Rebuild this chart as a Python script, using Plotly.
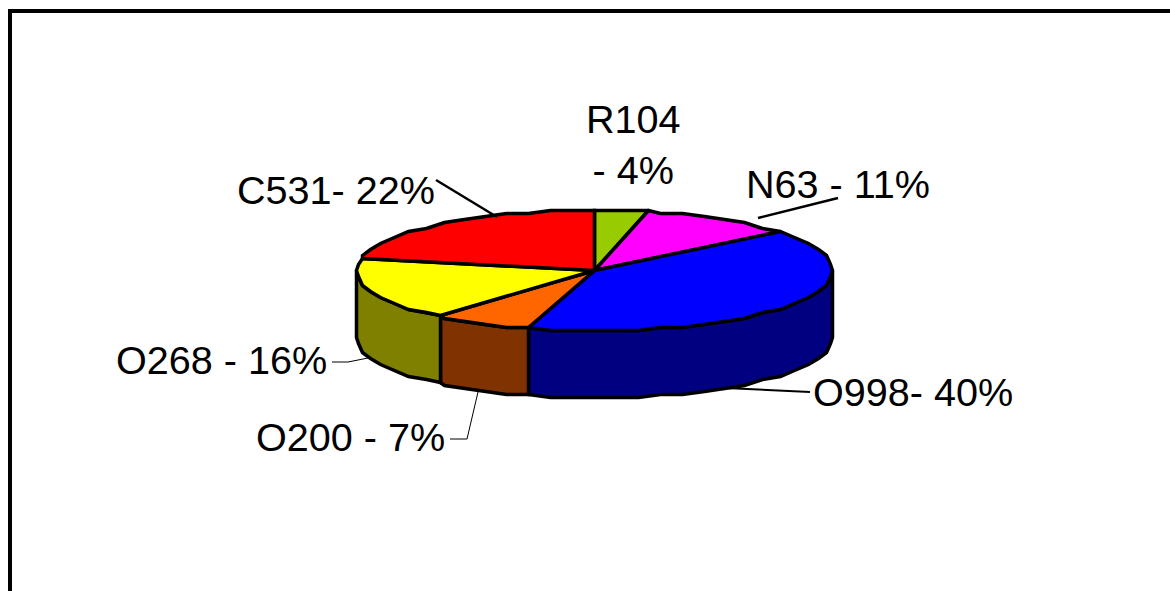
import math
import plotly.graph_objects as go

# Shares of each sector, clockwise from twelve o'clock
categories = ["R104", "N63", "O998", "O200", "O268", "C531"]
shares = [4, 11, 40, 7, 16, 22]
label_texts = ["R104<br>- 4%", "N63 - 11%", "O998- 40%", "O200 - 7%", "O268 - 16%", "C531- 22%"]
top_colors = ["#99CC00", "#FF00FF", "#0000FF", "#FF6600", "#FFFF00", "#FF0000"]
side_colors = ["#4D7A00", "#800080", "#000080", "#803300", "#808000", "#800000"]

# Pie disc geometry in pixels
CX, CY, RX, RY, DEPTH = 594.5, 270.5, 238.0, 60.5, 67.0
STEP = 6.0       # rim facet size in degrees
SNAP_X, SNAP_Y = 2.0, 3.0  # coarse vertex grid that gives the rim its faceted look
SKEW = 3.0       # angular foreshortening of the tilted disc, degrees

W, H = 1170, 591


def tilt(t):
    return t - SKEW * math.sin(math.radians(2 * t))


def rim(t, drop=0.0):
    a = math.radians(tilt(t))
    x = CX + RX * math.sin(a)
    y = CY - RY * math.cos(a)
    return CX + round((x - CX) / SNAP_X) * SNAP_X, CY + round((y - CY) / SNAP_Y) * SNAP_Y + drop


def arc_angles(a0, a1):
    pts = [a0]
    t = (math.floor(a0 / STEP) + 1) * STEP
    while t < a1:
        pts.append(t)
        t += STEP
    pts.append(a1)
    return pts


total = sum(shares)
bounds = [0.0]
for s in shares:
    bounds.append(bounds[-1] + 360.0 * s / total)

fig = go.Figure()


def polygon(points, color):
    fig.add_trace(go.Scatter(
        x=[p[0] for p in points], y=[p[1] for p in points],
        mode="lines", fill="toself", fillcolor=color,
        line=dict(color="black", width=3.5), hoverinfo="skip", showlegend=False,
    ))


# Side walls: only the part of the rim facing the viewer (90 to 270 degrees)
for i in range(len(shares)):
    a0, a1 = max(bounds[i], 90.0), min(bounds[i + 1], 270.0)
    if a0 >= a1:
        continue
    angles = arc_angles(a0, a1)
    pts = [rim(t) for t in angles] + [rim(t, DEPTH) for t in reversed(angles)]
    pts.append(pts[0])
    polygon(pts, side_colors[i])

# Top faces
for i in range(len(shares)):
    angles = arc_angles(bounds[i], bounds[i + 1])
    pts = [(CX, CY)] + [rim(t) for t in angles] + [(CX, CY)]
    polygon(pts, top_colors[i])

# Leader lines: (points, width)
leaders = [
    ([(436, 180), (497, 217)], 2.5),
    ([(758, 218), (838, 198)], 2.5),
    ([(725, 388), (810, 392)], 2.0),
    ([(332, 362), (348, 362), (368, 358)], 1.0),
    ([(450, 439), (467, 439), (478, 392)], 1.0),
]
for pts, w in leaders:
    fig.add_trace(go.Scatter(
        x=[p[0] for p in pts], y=[p[1] for p in pts], mode="lines",
        line=dict(color="black", width=w), hoverinfo="skip", showlegend=False,
    ))

# Label anchors: x, y, horizontal alignment
anchors = [
    (633.5, 144.5, "center"),
    (744, 184, "left"),
    (811, 392, "left"),
    (254, 437, "left"),
    (114, 360, "left"),
    (235, 190, "left"),
]
annotations = [
    dict(x=x, y=y, xref="x", yref="y", text=t, showarrow=False, xanchor=xa, yanchor="middle",
         align="center", font=dict(family="Liberation Sans", size=39.6, color="black"))
    for t, (x, y, xa) in zip(label_texts, anchors)
]

fig.update_layout(
    width=W, height=H, margin=dict(l=0, r=0, t=0, b=0),
    paper_bgcolor="white", plot_bgcolor="white", showlegend=False,
    xaxis=dict(range=[0, W], visible=False, fixedrange=True),
    yaxis=dict(range=[H, 0], visible=False, fixedrange=True),
    annotations=annotations,
    shapes=[dict(type="path", path=f"M 10 {H + 10} L 10 11 L {W + 10} 11",
                 xref="x", yref="y", line=dict(color="black", width=4))],
)

fig.write_html("out.html", config={"displayModeBar": False})
